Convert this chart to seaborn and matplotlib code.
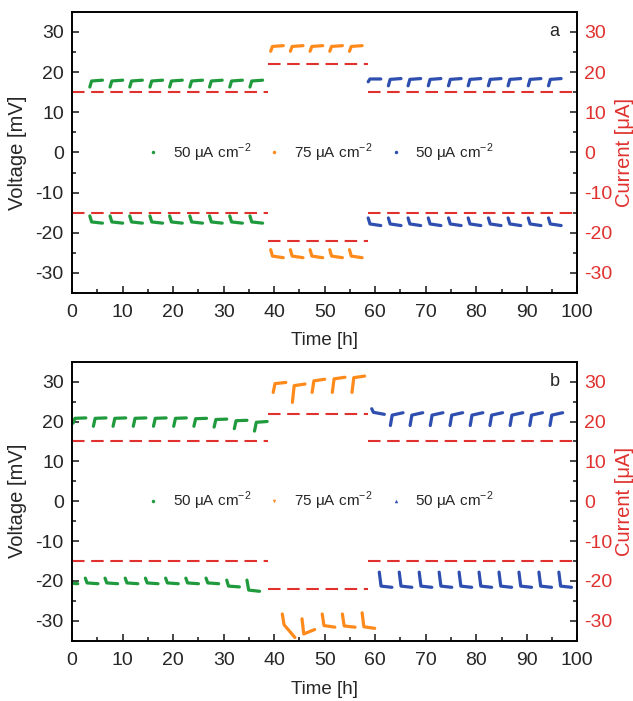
import numpy as np
import pandas as pd
import matplotlib
matplotlib.use("Agg")
import matplotlib.pyplot as plt
from matplotlib.lines import Line2D
from matplotlib.ticker import MultipleLocator
import seaborn as sns

# colours
c_green = "#1f9a3c"
c_orange = "#ff8a1c"
c_blue = "#2f4fb0"
c_red = "#e0312e"

# ---- panel a : voltage marks (start time, [start value, knee value, end value])
a_green_t = [3.5, 7.5, 11.4, 15.4, 19.3, 23.3, 27.2, 31.2, 35.2]
a_green_pos = [[16.3, 17.8, 18.0]] * 9
a_green_neg = [[-15.8, -17.3, -17.6]] * 9

a_orange_t = [39.3, 43.2, 47.1, 51.0, 54.9]
a_orange_pos = [[25.2, 26.4, 26.6]] * 5
a_orange_neg = [[-24.2, -25.8, -26.2]] * 5

a_blue_t = [58.6, 62.6, 66.5, 70.5, 74.5, 78.4, 82.4, 86.3, 90.3, 94.3]
a_blue_pos = [[17.6, 18.3, 18.3]] + [[16.6, 18.2, 18.4]] * 9
a_blue_neg = [[-16.3, -17.8, -18.2]] * 10

# ---- panel b
b_green_t = [0.2, 4.2, 8.1, 12.1, 16.1, 20.1, 24.1, 28.1, 32.1, 36.1]
b_green_pos = [[19.6, 20.8, 20.9], [18.8, 20.8, 20.9], [18.8, 20.8, 20.9],
               [18.8, 20.8, 20.9], [18.8, 20.8, 20.9], [18.8, 20.8, 20.9],
               [18.8, 20.7, 20.8], [18.6, 20.5, 20.6], [18.2, 20.2, 20.3],
               [17.6, 19.8, 20.0]]
b_green_nt = [-1.4, 2.6, 6.5, 10.5, 14.5, 18.5, 22.5, 26.5, 30.6, 34.6]
b_green_neg = [[-19.3, -20.5, -20.7]] * 8 + [[-19.8, -21.3, -21.5],
                                             [-19.8, -22.3, -22.6]]

b_orange_t = [39.8, 43.6, 47.5, 51.5, 55.4]
b_orange_pos = [[27.3, 29.5, 29.8], [24.8, 29.0, 29.4], [27.3, 30.2, 30.6],
                [27.3, 30.7, 31.1], [27.3, 31.0, 31.4]]
b_orange_nt = [41.6, 45.5, 49.5, 53.5, 57.4]
b_orange_neg = [[-28.3, -31.0, -34.2], [-29.5, -33.3, -32.2], [-28.3, -31.2, -31.6],
                [-28.3, -31.3, -31.6], [-28.0, -31.5, -31.9]]

b_blue_t = [59.3, 63.0, 66.9, 70.9, 74.8, 78.8, 82.7, 86.7, 90.6, 94.6]
b_blue_pos = [[23.2, 22.3, 21.8]] + [[19.0, 21.6, 22.2]] * 9
b_blue_nt = [60.8, 64.75, 68.7, 72.65, 76.6, 80.55, 84.5, 88.45, 92.4, 96.35]
b_blue_neg = [[-17.8, -21.3, -21.6]] * 10

# ---- current (red dashed steps)
cur_edges = [0, 38.8, 58.6, 100]
cur_levels = [15, 22, 15]

legend_labels = ["50 μA cm$^{-2}$", "75 μA cm$^{-2}$", "50 μA cm$^{-2}$"]

KNEE = 0.35
LENGTH = 2.5


def marks_frame(series, times, vals, tag):
    rows = []
    for i, (t0, (vs, vk, ve)) in enumerate(zip(times, vals)):
        for t, v in [(t0, vs), (t0 + KNEE, vk), (t0 + LENGTH, ve)]:
            rows.append({"series": series, "mark": f"{tag}{i}", "t": t, "v": v})
    return rows


panels = {
    "a": [("g", a_green_t, a_green_pos, a_green_t, a_green_neg),
          ("o", a_orange_t, a_orange_pos, a_orange_t, a_orange_neg),
          ("b", a_blue_t, a_blue_pos, a_blue_t, a_blue_neg)],
    "b": [("g", b_green_t, b_green_pos, b_green_nt, b_green_neg),
          ("o", b_orange_t, b_orange_pos, b_orange_nt, b_orange_neg),
          ("b", b_blue_t, b_blue_pos, b_blue_nt, b_blue_neg)],
}
palette = {"g": c_green, "o": c_orange, "b": c_blue}

sns.set_style("ticks")
plt.rcParams["font.family"] = ["Liberation Sans", "DejaVu Sans"]
plt.rcParams["mathtext.fontset"] = "custom"
plt.rcParams["mathtext.rm"] = "Liberation Sans"
plt.rcParams["axes.unicode_minus"] = False

fig = plt.figure(figsize=(6.33, 7.01), dpi=100)
ax_a = fig.add_axes([0.114, 0.582, 0.798, 0.401])
ax_b = fig.add_axes([0.114, 0.086, 0.798, 0.398])

leg_markers = {"a": ["o", "o", "o"], "b": ["o", "v", "^"]}

for key, ax in [("a", ax_a), ("b", ax_b)]:
    rows = []
    for s, tp, vp, tn, vn in panels[key]:
        rows += marks_frame(s, tp, vp, s + "p")
        rows += marks_frame(s, tn, vn, s + "n")
    df = pd.DataFrame(rows)
    sns.lineplot(data=df, x="t", y="v", hue="series", units="mark",
                 estimator=None, sort=False, palette=palette, legend=False,
                 linewidth=2.3, ax=ax)

    ax2 = ax.twinx()
    crow = []
    for j, lev in enumerate(cur_levels):
        for sign in (1, -1):
            for t in (cur_edges[j], cur_edges[j + 1]):
                crow.append({"seg": f"{j}{sign}", "t": t, "i": sign * lev})
    cdf = pd.DataFrame(crow)
    sns.lineplot(data=cdf, x="t", y="i", units="seg", estimator=None,
                 color=c_red, linewidth=1.5, linestyle=(0, (6, 3.2)), ax=ax2)

    for a in (ax, ax2):
        a.set_xlim(0, 100)
        a.set_ylim(-35, 35)
        a.yaxis.set_major_locator(MultipleLocator(10))
        a.yaxis.set_minor_locator(MultipleLocator(5))
    ax.xaxis.set_major_locator(MultipleLocator(10))
    ax.xaxis.set_minor_locator(MultipleLocator(5))
    ax.tick_params(which="both", direction="in", labelsize=14, width=1.2)
    ax.tick_params(axis="x", which="major", pad=8)
    ax.tick_params(axis="y", which="major", pad=6)
    ax.tick_params(which="major", length=5)
    ax.tick_params(which="minor", length=3)
    ax2.tick_params(which="both", direction="in", labelsize=14, width=1.2,
                    labelcolor=c_red)
    ax2.tick_params(which="major", length=5, pad=5)
    ax2.tick_params(which="minor", length=3)
    for a in (ax, ax2):
        for sp in a.spines.values():
            sp.set_linewidth(1.2)
            sp.set_color("black")

    ax.set_xlabel("Time [h]", fontsize=13.5)
    ax.xaxis.set_label_coords(0.5, -0.139 if key == "a" else -0.146)
    ax.set_ylabel("Voltage [mV]", fontsize=14.5)
    ax.yaxis.set_label_coords(-0.089, 0.5)
    ax2.set_ylabel("Current [μA]", fontsize=14.5, color=c_red)
    ax2.yaxis.set_label_coords(1.075, 0.5)
    ax.text(0.955, 0.93, key, transform=ax.transAxes, fontsize=13,
            ha="center", va="center")

    handles = [Line2D([], [], ls="", marker=m, ms=2.5, color=c,
                      markeredgewidth=0)
               for m, c in zip(leg_markers[key], [c_green, c_orange, c_blue])]
    ax.legend(handles, legend_labels, loc="center", bbox_to_anchor=(0.49, 0.5),
              ncol=3, frameon=False, fontsize=11, handlelength=1.0,
              handletextpad=0.8, columnspacing=1.0)

fig.savefig("out.png", dpi=100)
